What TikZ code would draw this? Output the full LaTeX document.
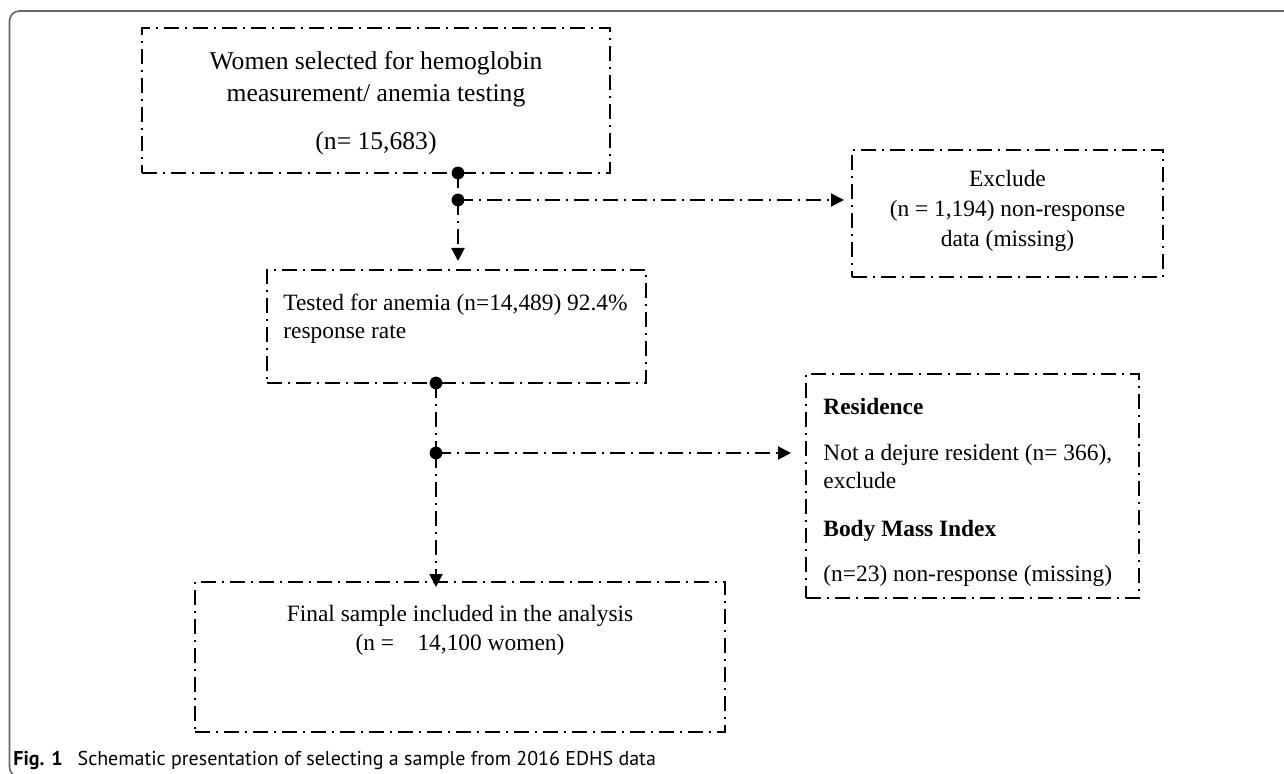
\documentclass[tikz,border=0pt]{standalone}
\usepackage{fontspec}
\setmainfont{Liberation Serif}
\newfontfamily\capfont{PT Sans}
\usetikzlibrary{arrows.meta}

\tikzset{
    dbox/.style = {draw, line width = 1pt, dash pattern = on 7.5pt off 3pt on 1pt off 3pt, inner sep = 0pt},
    link/.style = {line width = 1pt, dash pattern = on 7.5pt off 3pt on 1pt off 3pt},
    tip/.style = {-{Triangle[length = 6.5pt, width = 6.5pt]}},
    txt/.style = {inner sep = 0pt, font = \fontsize{11.7}{14}\selectfont}
}

\begin{document}
\begin{tikzpicture}[x = 0.5pt, y = -0.5pt]
        \useasboundingbox (0,0) rectangle (1284,774);

        \draw [black!60, line width = 0.8pt, rounded corners = 5pt] (1290,11) -- (9.5,11) -- (9.5,777) -- (40,777);

        \node [dbox, minimum width = 234pt, minimum height = 72.5pt] (sel) at (376,100.5) {};
        \node [dbox, minimum width = 155.5pt, minimum height = 63.5pt] (exc) at (1007.5,213.5) {};
        \node [dbox, minimum width = 189.5pt, minimum height = 56.5pt] (tst) at (456.5,326.5) {};
        \node [dbox, minimum width = 166.5pt, minimum height = 112pt] (res) at (972.5,486) {};
        \node [dbox, minimum width = 265pt, minimum height = 75pt] (fin) at (460,657) {};

        \node [txt, font = \fontsize{12.8}{16}\selectfont, align = center, anchor = north] (selt) at (376,51)
            {Women selected for hemoglobin\\measurement/ anemia testing\\[8pt](n= 15,683)};
        \node [txt, font = \fontsize{11.7}{15}\selectfont, align = center, anchor = north] (exct) at (1007.5,170)
            {Exclude\\(n = 1,194) non-response\\data (missing)};
        \node [txt, align = left, anchor = north west] (tstt) at (283,294)
            {Tested for anemia (n=14,489) 92.4\%\\response rate};
        \node [txt, align = left, anchor = north west] (rest) at (823,398)
            {\textbf{Residence}\\[9pt]Not a dejure resident (n= 366),\\exclude\\[10pt]\textbf{Body Mass Index}\\[8.5pt](n=23) non-response (missing)};
        \node [txt, font = \fontsize{11.7}{14.5}\selectfont, align = center, anchor = north] (fint) at (460,605)
            {Final sample included in the analysis\\(n =\quad 14,100 women)};

        \coordinate (d1) at (458,173);
        \coordinate (d2) at (458,200);
        \coordinate (d3) at (436,383);
        \coordinate (d4) at (436,453);

        \draw [link] (d1) -- (d2);
        \draw [link, tip, shorten >= 4pt] (d2) -- (d2 |- tst.north);
        \draw [link, tip, shorten >= 3.5pt] (d2) -- (d2 -| exc.west);
        \draw [link] (d3) -- (d4);
        \draw [link, tip, shorten >= 7pt] (d4) -- (d4 -| res.west);
        \draw [link, tip, shorten >= -3pt] (d4) -- (d4 |- fin.north);
        \foreach \d in {d1, d2, d3, d4}
            \fill (\d) circle (3.2pt);

        \node [anchor = base west, inner sep = 0pt, font = \capfont\fontsize{10}{12}\selectfont] (cap) at (13,765)
            {\textbf{Fig. 1}\hspace{7.5pt}Schematic presentation of selecting a sample from 2016 EDHS data};
    \end{tikzpicture}
\end{document}
